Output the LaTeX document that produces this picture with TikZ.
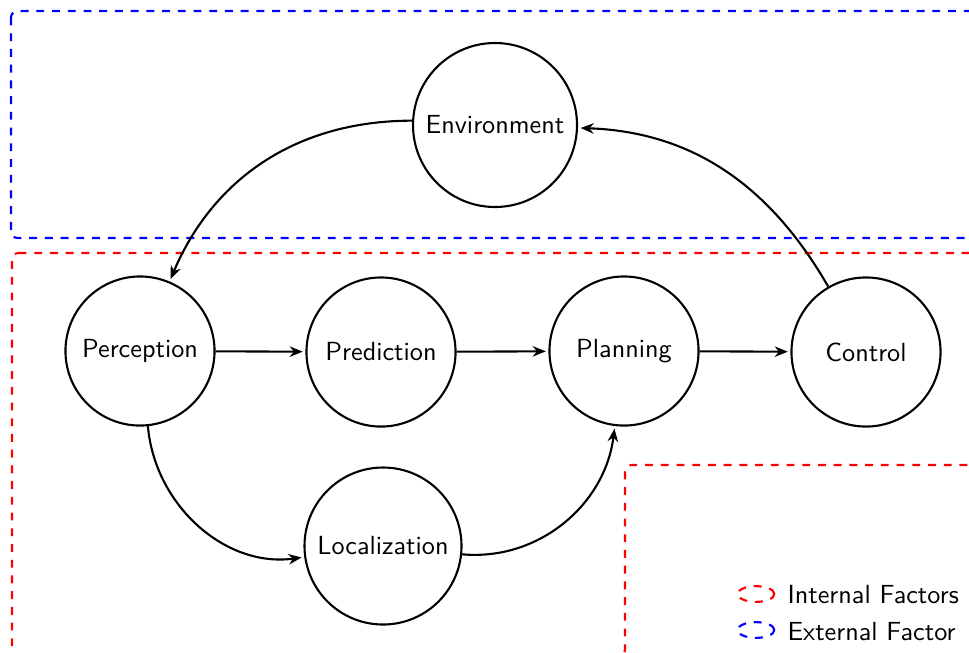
\documentclass[tikz,border=0pt]{standalone}
\usetikzlibrary{arrows.meta,shapes.geometric}
\begin{document}
\begin{tikzpicture}[x=0.3817pt,y=-0.3817pt,
  every node/.style={font=\sffamily},
  stage/.style={circle,draw,thick,minimum size=2cm,inner sep=3.5pt},
  flow/.style={-{Stealth[length=5pt,width=4pt]},thick,shorten >=1pt},
  extbox/.style={draw=blue,dashed,thick,rounded corners=2.5pt},
  intbox/.style={draw=red,dashed,thick,rounded corners=2.5pt},
  keyicon/.style={ellipse,dashed,thick,minimum width=14pt,minimum height=6pt,inner sep=0pt},
  keytext/.style={anchor=west,inner sep=0pt}]
\useasboundingbox (0,0) rectangle (969,652);
\begin{scope}
\clip (0,0) rectangle (969,652);
\draw[extbox] (11,11) rectangle (995,238);
\draw[intbox] (12,253) -- (995,253) -- (995,465) -- (625,465) -- (625,656) -- (12,656) -- cycle;
\end{scope}
\node[stage,inner sep=4pt] (env) at (495,125) {Environment};
\node[stage] (per) at (140,351) {Perception};
\node[stage] (pre) at (381,352) {Prediction};
\node[stage] (pla) at (624,351) {Planning};
\node[stage] (con) at (866,352) {Control};
\node[stage,inner sep=4pt] (loc) at (383,546) {Localization};
\draw[flow] (env.177) to[out=180,in=67] (per);
\draw[flow] (con) to[out=120,in=-2] (env);
\draw[flow] (per) -- (pre);
\draw[flow] (pre) -- (pla);
\draw[flow] (pla) -- (con);
\draw[flow] (per.-84) to[out=-85,in=188] (loc);
\draw[flow] (loc.-6) to[out=-5,in=-97] (pla);
\node[keyicon,draw=red] (ki) at (756,594) {};
\node[keyicon,draw=blue] (ke) at (756,630) {};
\node[keytext] (ti) at (787,595) {Internal Factors};
\node[keytext] (te) at (787,632) {External Factor};
\end{tikzpicture}
\end{document}
